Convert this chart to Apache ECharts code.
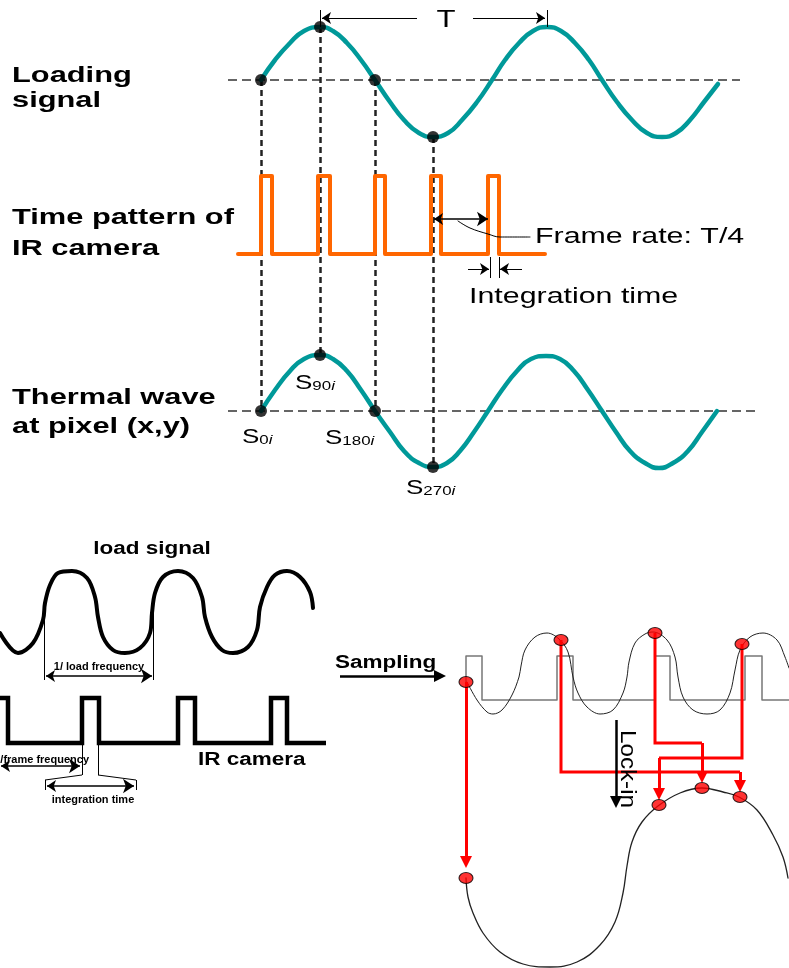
<!DOCTYPE html>
<html><head><meta charset="utf-8">
<script src="https://cdn.jsdelivr.net/npm/echarts@6/dist/echarts.min.js"></script>
<style>html,body{margin:0;padding:0;background:#fff}#c{width:789px;height:968px}</style>
</head><body><div id="c"></div>
<script>
// ---------- data (pixel-space units) ----------
const loadingSignalX = [261,275,290,304,320,333,347,361,375,390,404,419,433,448,462,477,492,505,519,533,547,561,575,589,602,617,632,647,662,676,690,704,718];
const loadingSignalY = [80,60,43,31,27,31,43,60,80,102,120,133,137,133,120,102,80,60,43,31,27,31,43,60,80,102,120,133,137,133,120,102,84];
const thermalWaveX = [261,275,290,304,320,333,347,361,375,390,404,419,433,447,460,474,488,502,517,531,546,560,574,588,602,616,630,645,659,673,688,702,717];
const thermalWaveY = [411,390,371,359,355,359,371,390,411,432,451,463,467,463,451,432,411,390,371,359,356,359,371,390,411,432,451,463,468,463,451,432,411];
const loadingSamples = [[261,80],[320,27],[375,80],[433,137]];
const thermalSamples = [[261,411],[320,355],[375,411],[433,467]];
const cameraPattern = [[238,254],[261,254],[261,176],[272,176],[272,254],[318,254],[318,176],[330,176],[330,254],[375,254],[375,176],[385,176],[385,254],[431,254],[431,176],[441,176],[441,254],[488,254],[488,176],[499,176],[499,254],[545,254]];
const baselines = [[[228,80],[740,80]],[[228,411],[760,411]]];

const loadWave = [[0,633],[18,653],[33,643],[43,620],[45,603],[50,585],[58,573],[72,571],[87,578],[95,597],[98,617],[103,637],[113,650],[125,653],[140,648],[150,633],[152,613],[155,593],[163,577],[178,571],[193,578],[202,597],[205,617],[212,637],[222,650],[233,653],[248,647],[257,630],[260,607],[267,587],[275,575],[287,571],[300,577],[310,592],[313,608]];
const irPulses = [[0,698],[8,698],[8,743],[82,743],[82,698],[99,698],[99,743],[178,743],[178,698],[195,698],[195,743],[271,743],[271,698],[287,698],[287,743],[326,743]];
const grayPulses = [[466,700],[466,656],[482,656],[482,700],[557,700],[557,656],[573,656],[573,700],[655,700],[655,656],[670,656],[670,700],[745,700],[745,656],[762,656],[762,700],[789,700]];
const sampledWave = [[467,682],[477,700],[487,712],[493,714],[502,710],[512,695],[519,677],[521,666],[525,650],[535,637],[547,633],[559,639],[568,652],[573,677],[578,693],[587,707],[600,714],[613,710],[623,693],[627,677],[629,662],[635,643],[645,634],[653,632],[667,640],[675,657],[678,677],[683,697],[693,710],[707,714],[720,710],[730,693],[735,670],[740,650],[750,637],[763,633],[777,640],[785,657],[789,668]];
const lockinCurve = [[466,878],[468,897],[473,913],[483,933],[500,952],[523,964],[550,967],[577,962],[600,945],[615,922],[623,893],[627,866],[632,842],[642,822],[658,806],[680,793],[702,788],[723,792],[739,797],[757,810],[773,835],[783,857],[788,878]];
const redSources = [[466,682],[561,640],[655,633],[742,644]];
const redTargets = [[466,878],[740,797],[702,788],[659,805]];
const redRoutes = [
  [[466,682],[466,862]],
  [[561,640],[561,772],[740,772],[740,786]],
  [[655,633],[655,743],[702,743],[702,777]],
  [[742,644],[742,758],[659,758],[659,794]]
];

// annotation geometry
const singleArrows = [[[417,18],[322,18]],[[473,18],[545,18]],[[468,269],[489,269]],[[522,269],[500,269]]];
const doubleArrows = [[[434,219],[488,219]],[[46,676],[152,676]],[[1,766],[80,766]],[[47,786],[134,786]]];
const plainLines = [[[320,10],[320,27]],[[547,10],[547,27]],[[490,257],[490,278]],[[499,257],[499,278]],
  [[44,617],[44,680]],[[153,613],[153,680]],
  [[82,743],[82,775]],[[98,743],[98,775]],[[82,775],[45,780]],[[98,775],[136,780]],[[45,780],[45,790]],[[136,780],[136,790]]];
const frameLeader = [[458,221],[470,228],[488,234],[500,237],[530,237]];
const boldArrows = [[[340,676],[440,676]],[[616,720],[616,802]]];

// ---------- chart ----------
const chart = echarts.init(document.getElementById('c'), null, {renderer:'canvas'});
const SANS = '"Liberation Sans", Arial, sans-serif';
const zip = (xs, ys) => xs.map((x,i)=>[x, ys[i]]);
function line(data, color, width, smooth, z){
  return {type:'line', data, smooth, symbol:'none', showSymbol:false, silent:true, z, animation:false,
    lineStyle:{color, width, cap:'round', join:'round'}};
}
function lines(segs, color, width, symbol, symbolSize, type, z){
  return {type:'lines', coordinateSystem:'cartesian2d', data: segs.map(c=>({coords:c})), symbol, symbolSize,
    silent:true, z, animation:false, lineStyle:{color, width, type: type||'solid', opacity:1, curveness:0}};
}
function txt(text, x, y, size, weight, scaleX, align, extra){
  return Object.assign({type:'text', x, y, scaleX: scaleX||1, z:100,
    style:{text, font: (weight||'normal')+' '+size+'px '+SANS, fill:'#000', align: align||'left', verticalAlign:'middle',
      textAlign: align||'left', textVerticalAlign:'middle'}}, extra||{});
}
function sLabel(sub, x, y){
  return {type:'text', x, y, scaleX:1.3, z:100, style:{
    text:'{s|S}{n|'+sub+'}{i|i}', align:'left', verticalAlign:'middle', textAlign:'left', textVerticalAlign:'middle',
    rich:{ s:{fontSize:20, fontFamily:SANS, fill:'#000', verticalAlign:'bottom'},
           n:{fontSize:13, fontFamily:SANS, fill:'#000', verticalAlign:'bottom'},
           i:{fontSize:13, fontFamily:SANS, fontStyle:'italic', fill:'#000', verticalAlign:'bottom'} }}};
}

const redRouteBodies = redRoutes.filter(r=>r.length>2).map(r=>({coords:r.slice(0,-1)}));
const redHeads = redRoutes.map(r=>r.slice(-2));

const option = {
  animation:false,
  backgroundColor:'#fff',
  grid:{left:0,right:0,top:0,bottom:0,containLabel:false},
  xAxis:{type:'value', min:0, max:789, show:false},
  yAxis:{type:'value', min:0, max:968, inverse:true, show:false},
  series:[
    lines(baselines, '#333', 1.5, ['none','none'], 0, [9,5], 1),
    lines(loadingSamples.map((p,i)=>[p, thermalSamples[i]]), '#222', 2.5, ['none','none'], 0, [6,4], 2),
    line(cameraPattern, '#ff6600', 4, false, 3),
    line(zip(loadingSignalX, loadingSignalY), '#009999', 4.5, 0.5, 4),
    line(zip(thermalWaveX, thermalWaveY), '#009999', 4.5, 0.5, 4),
    {type:'scatter', data: loadingSamples.concat(thermalSamples), symbol:'circle', symbolSize:12,
      itemStyle:{color:'#000'}, silent:true, z:5, animation:false},
    lines(singleArrows, '#000', 1, ['none','arrow'], [7,9], 'solid', 6),
    lines(doubleArrows, '#000', 1.5, ['arrow','arrow'], [9,11], 'solid', 6),
    lines(plainLines, '#000', 1, ['none','none'], 0, 'solid', 6),
    line(frameLeader, '#000', 1, 0.4, 6),
    line(loadWave, '#000', 4, 0.35, 7),
    {type:'line', data: irPulses, symbol:'none', silent:true, z:7, animation:false, lineStyle:{color:'#000', width:4.5, join:'miter', cap:'butt'}},
    line(grayPulses, '#777', 1.5, false, 7),
    line(sampledWave, '#222', 1, 0.35, 8),
    line(lockinCurve, '#222', 1.3, 0.4, 8),
    {type:'lines', coordinateSystem:'cartesian2d', polyline:true, data: redRouteBodies, silent:true, z:9, animation:false,
      lineStyle:{color:'#ff0000', width:3, opacity:1, join:'miter'}},
    lines(redHeads, '#ff0000', 3, ['none','triangle'], [13,12], 'solid', 9),
    {type:'scatter', data: redSources.concat(redTargets), symbol:'circle', symbolSize:[14,11],
      itemStyle:{color:'#ff0000', borderColor:'#000', borderWidth:1}, silent:true, z:10, animation:false},
    lines(boldArrows, '#000', 2.5, ['none','triangle'], [11,12], 'solid', 10)
  ],
  graphic:{elements:[
    txt('Loading', 12, 76, 22, 'bold', 1.4),
    txt('signal', 12, 101, 22, 'bold', 1.4),
    txt('Time pattern of', 12, 218, 22, 'bold', 1.4),
    txt('IR camera', 12, 249, 22, 'bold', 1.4),
    txt('Thermal wave', 12, 398, 22, 'bold', 1.4),
    txt('at pixel (x,y)', 12, 427, 22, 'bold', 1.4),
    txt('T', 446, 20, 24, 'normal', 1.3, 'center'),
    txt('Frame rate: T/4', 535, 237, 22, 'normal', 1.38),
    txt('Integration time', 469, 297, 22, 'normal', 1.38),
    sLabel('0', 242, 437),
    sLabel('90', 295, 383),
    sLabel('180', 325, 438),
    sLabel('270', 406, 488),
    txt('load signal', 152, 549, 18, 'bold', 1.25, 'center'),
    txt('1/ load frequency', 99, 667, 10, 'bold', 1.1, 'center'),
    txt('1/frame frequency', 89, 760, 10, 'bold', 1.1, 'right'),
    txt('integration time', 93, 800, 10, 'bold', 1.1, 'center'),
    txt('IR camera', 198, 760, 18, 'bold', 1.25),
    txt('Sampling', 335, 663, 18, 'bold', 1.25),
    txt('Lock-in', 627, 769, 22, 'normal', 1.1, 'center', {rotation:-Math.PI/2})
  ]}
};
chart.setOption(option);
</script></body></html>
